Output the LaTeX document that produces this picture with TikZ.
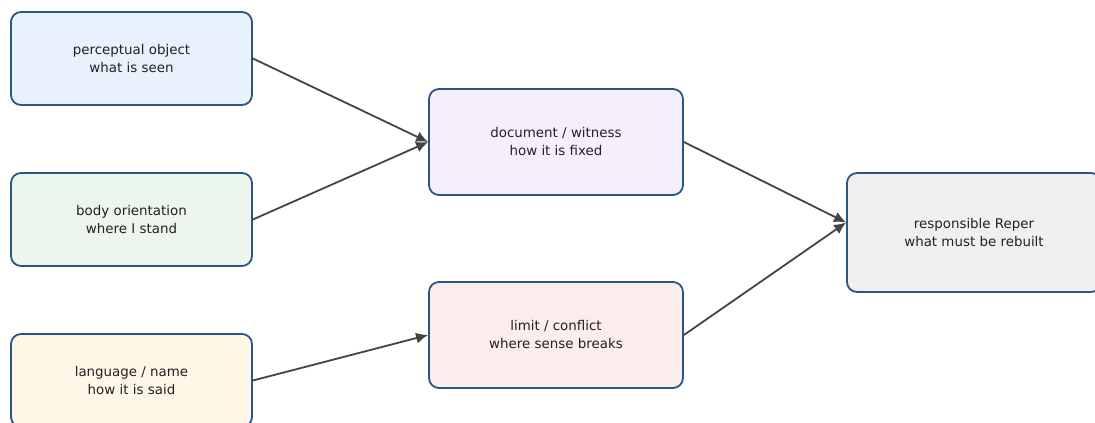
\documentclass[tikz,border=0pt]{standalone}
\usepackage{fontspec}
\setmainfont{DejaVu Sans}
\usepackage{xcolor}
\usepackage{tikz}
\usetikzlibrary{arrows.meta}
\definecolor{edgeblue}{HTML}{2B5584}
\definecolor{arrowgray}{HTML}{444444}
\definecolor{txtgray}{HTML}{222222}
\definecolor{fillA}{HTML}{E8F2FD}
\definecolor{fillB}{HTML}{ECF6EE}
\definecolor{fillC}{HTML}{FEF6E7}
\definecolor{fillD}{HTML}{F5EFFD}
\definecolor{fillE}{HTML}{FCEDED}
\definecolor{fillF}{HTML}{F0F0F0}
\tikzset{
  box/.style={draw=edgeblue, line width=1.8pt, rounded corners=10pt, align=center,
    text=txtgray, font=\fontsize{13.4}{18}\selectfont, inner sep=0pt},
  arr/.style={draw=arrowgray, line width=1.8pt, -{Latex[length=12pt,width=11pt]}}
}
\begin{document}
\begin{tikzpicture}[x=1pt,y=-1pt]
		\useasboundingbox (0,0) rectangle (1095,423);
		% Source boxes on the left
		\node[box, fill=fillA, minimum width=241pt, minimum height=93pt] (v1) at (131.5,58.5) {perceptual object\\what is seen};
		\node[box, fill=fillB, minimum width=241pt, minimum height=93pt] (v2) at (131.5,219.5) {body orientation\\where I stand};
		\node[box, fill=fillC, minimum width=241pt, minimum height=93pt] (v3) at (131.5,380.5) {language / name\\how it is said};
		% Middle boxes
		\node[box, fill=fillD, minimum width=254pt, minimum height=106pt] (v4) at (556,142) {document / witness\\how it is fixed};
		\node[box, fill=fillE, minimum width=254pt, minimum height=106pt] (v5) at (556,335) {limit / conflict\\where sense breaks};
		% Target box
		\node[box, fill=fillF, minimum width=254pt, minimum height=119pt] (v6) at (974,232.5) {responsible Reper\\what must be rebuilt};
		\coordinate (v7) at ([yshift=10pt]v6.west);
		% Arrows
		\draw[arr] (v1.east) -- (v4.west);
		\draw[arr] (v2.east) -- (v4.west);
		\draw[arr] (v3.east) -- (v5.west);
		\draw[arr] (v4.east) -- (v7);
		\draw[arr] (v5.east) -- (v7);
\end{tikzpicture}
\end{document}
